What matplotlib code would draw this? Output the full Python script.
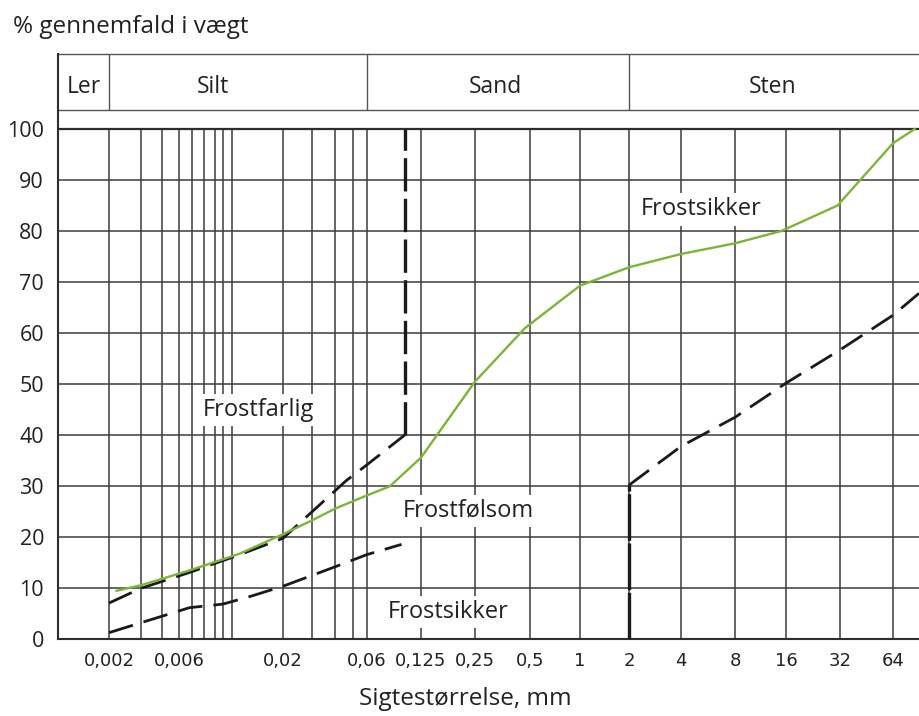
import numpy as np
import matplotlib
matplotlib.use("Agg")
import matplotlib.pyplot as plt
from matplotlib.ticker import NullLocator

plt.rcParams['font.family'] = ['Open Sans', 'DejaVu Sans']

# x-axis of the sieve chart is not a true log scale: each grid line has its own spot
# (sizes in mm -> horizontal position from the axis left edge, in px at 100 dpi)
SCALE_MM = [0.0007, 0.002, 0.003, 0.004, 0.006, 0.007, 0.008, 0.009, 0.010, 0.012,
            0.02, 0.03, 0.04, 0.05, 0.06, 0.125, 0.25, 0.5, 1, 2, 4, 8, 16, 32, 64, 128]
SCALE_POS = [0, 51, 83, 104, 121, 134, 146, 157, 165, 174,
             225, 254, 277, 295, 309, 363, 417, 472, 522, 571, 623, 677, 728, 782, 835, 888]

TICK_MM = [0.002, 0.006, 0.02, 0.06, 0.125, 0.25, 0.5, 1, 2, 4, 8, 16, 32, 64]
TICK_LABELS = ["0,002", "0,006", "0,02", "0,06", "0,125", "0,25", "0,5",
               "1", "2", "4", "8", "16", "32", "64"]
GRID_MM = SCALE_MM[1:-1]
HEADER_DIVIDERS_MM = [0.002, 0.06, 2]
HEADER_LABELS = ["Ler", "Silt", "Sand", "Sten"]

# green sample curve
sample_mm = [0.0022, 0.003, 0.0068, 0.013, 0.02, 0.03, 0.04, 0.06, 0.082, 0.125,
             0.25, 0.47, 1, 2, 4, 8, 15, 31, 64, 85]
sample_pct = [9.5, 10.6, 13.5, 16.8, 20.6, 23.3, 25.6, 28.2, 30.0, 35.6,
              50.5, 61.0, 69.3, 72.9, 75.5, 77.6, 80.0, 85.0, 97.2, 100.0]

# boundary frostfarlig / frostfolsom
upper_mm = [0.002, 0.003, 0.0068, 0.013, 0.02, 0.046, 0.06, 0.1]
upper_pct = [7.1, 10.0, 13.1, 16.6, 19.8, 31.1, 34.2, 40.0]
upper_vert_mm = [0.1, 0.1]
upper_vert_pct = [40, 100]

# boundary frostfolsom / frostsikker (fine side)
lower_mm = [0.002, 0.0068, 0.010, 0.0144, 0.02, 0.04, 0.06, 0.096]
lower_pct = [1.3, 6.2, 6.9, 8.4, 10.4, 14.2, 16.6, 18.6]

# boundary frostsikker (coarse side)
coarse_vert_mm = [2, 2]
coarse_vert_pct = [0, 30.2]
coarse_mm = [2, 4, 8, 16, 32, 64, 90]
coarse_pct = [30.2, 37.8, 43.5, 50.2, 56.7, 63.5, 67.8]

LOG_MM = np.log10(SCALE_MM)


def forward(x):
    x = np.clip(np.asarray(x, dtype=float), 1e-6, None)
    return np.interp(np.log10(x), LOG_MM, SCALE_POS)


def inverse(u):
    return 10 ** np.interp(np.asarray(u, dtype=float), SCALE_POS, LOG_MM)


TXT = '#222222'
GRID = '#3c3c3c'
GREEN = '#7db536'
DASH = '#1a1a1a'
Y_TOP = 114.7
HEADER_BOTTOM = 103.7
X_MIN, X_MAX = 0.0007, 90

fig = plt.figure(figsize=(9.19, 7.16), dpi=100)
ax = fig.add_axes([58 / 919, 76.7 / 716, 861 / 919, 585.3 / 716])
ax.set_xscale('function', functions=(forward, inverse))
ax.set_xlim(X_MIN, X_MAX)
ax.set_ylim(0, Y_TOP)

# grid
ax.vlines(GRID_MM, 0, 100, color=GRID, lw=1.1, zorder=1)
ax.hlines(range(10, 100, 10), X_MIN, X_MAX, color=GRID, lw=1.1, zorder=1)
ax.hlines(100, X_MIN, X_MAX, color='#2e2e2e', lw=1.6, zorder=1)

# header box with soil classes
ax.hlines([HEADER_BOTTOM, Y_TOP], X_MIN, X_MAX, color='#555555', lw=1.0, clip_on=False)
ax.vlines(HEADER_DIVIDERS_MM, HEADER_BOTTOM, Y_TOP, color='#555555', lw=1.0)
for lab, xf in zip(HEADER_LABELS, [0.0302, 0.1794, 0.5081, 0.8298]):
    ax.text(xf, 107.0, lab, transform=ax.get_yaxis_transform(), ha='center',
            va='baseline', fontsize=16.5, color=TXT)

# curves
ax.plot(sample_mm, sample_pct, color=GREEN, lw=1.7, zorder=4)
dash_kw = dict(color=DASH, lw=2.0, dashes=(9, 4), zorder=3, solid_capstyle='butt')
ax.plot(upper_mm, upper_pct, **dash_kw)
ax.plot(lower_mm, lower_pct, **dash_kw)
ax.plot(coarse_mm, coarse_pct, **dash_kw)
ax.plot(upper_vert_mm, upper_vert_pct, color=DASH, lw=2.4, dashes=(10, 2.2), zorder=3)
ax.plot(coarse_vert_mm, coarse_vert_pct, color=DASH, lw=2.4, dashes=(14, 0.8), zorder=3)

# zone labels
box = dict(facecolor='white', edgecolor='none', pad=3)
zones = [("Frostfarlig", 0.2323, 43.8), ("Frostfølsom", 0.4762, 24.0),
         ("Frostsikker", 0.4530, 4.2), ("Frostsikker", 0.7468, 83.1)]
for lab, xf, yv in zones:
    ax.text(xf, yv, lab, transform=ax.get_yaxis_transform(), ha='center',
            va='baseline', fontsize=17, color=TXT, bbox=box, zorder=5)

# axes
for s in ['top', 'right']:
    ax.spines[s].set_visible(False)
for s in ['left', 'bottom']:
    ax.spines[s].set_color('#2e2e2e')
    ax.spines[s].set_linewidth(1.5)
ax.set_yticks(range(0, 101, 10))
ax.set_xticks(TICK_MM, labels=TICK_LABELS)
ax.xaxis.set_minor_locator(NullLocator())
ax.tick_params(axis='y', length=0, pad=10, labelsize=15.5, labelcolor=TXT)
ax.tick_params(axis='x', length=0, pad=9, labelsize=13, labelcolor=TXT)
for t in ax.get_xticklabels():
    t.set_fontfamily('DejaVu Sans')

fig.text(13 / 919, 1 - 33 / 716, "% gennemfald i vægt", ha='left', va='baseline',
         fontsize=17.5, color=TXT)
fig.text(465.5 / 919, 1 - 705 / 716, "Sigtestørrelse, mm", ha='center', va='baseline',
         fontsize=17.5, color=TXT)

fig.savefig("out.png", dpi=100)
